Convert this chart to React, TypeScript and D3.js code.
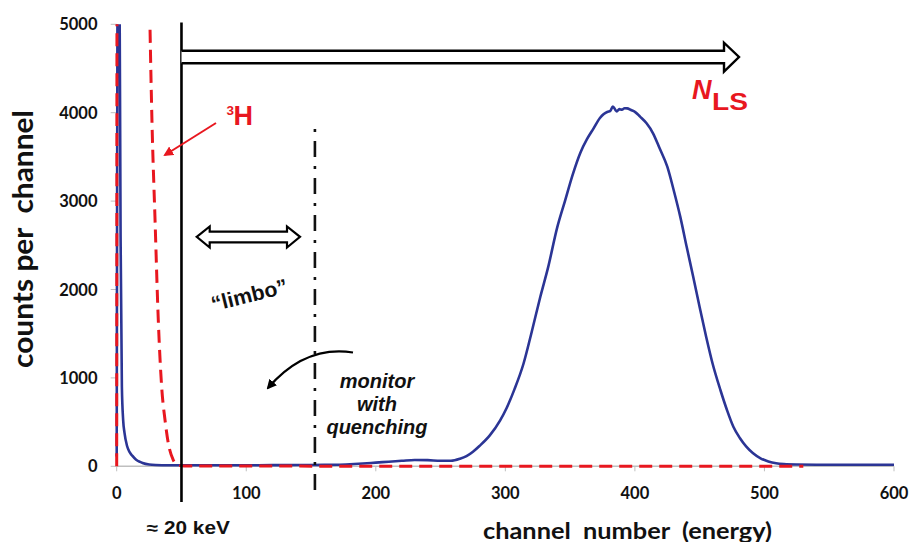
import React from "react";
import * as d3 from "d3";

const xTicks = [0, 100, 200, 300, 400, 500, 600];
const yTicks = [0, 1000, 2000, 3000, 4000, 5000];

const blueChannels = [0, 1, 2, 3, 4, 5, 6, 8, 10, 12, 15, 18, 20, 25, 30, 40, 60, 80, 100, 120, 140, 160, 170, 180, 190, 200, 210, 220, 230, 240, 250, 258, 265, 270, 275, 280, 288, 296, 301, 307, 314, 320, 327, 333, 340, 346, 352, 358, 363, 368, 373, 376, 379, 381, 383, 385, 386, 388, 390, 392, 394, 397, 400, 404, 409, 414, 419, 425, 430, 435, 440, 445, 450, 455, 460, 466, 471, 476, 481, 486, 491, 497, 503, 509, 515, 525, 540, 560, 580, 600];
const blueCounts = [110, 6500, 6000, 2600, 900, 520, 380, 230, 160, 120, 75, 50, 38, 20, 14, 12, 12, 12, 12, 13, 14, 16, 18, 24, 32, 42, 52, 62, 72, 70, 62, 62, 85, 115, 165, 230, 350, 520, 660, 870, 1160, 1500, 1918, 2250, 2700, 3000, 3300, 3550, 3700, 3820, 3940, 3985, 4010, 4020, 4070, 4030, 4015, 4040, 4035, 4050, 4049, 4030, 4010, 3955, 3880, 3767, 3600, 3389, 3120, 2824, 2480, 2145, 1800, 1466, 1160, 863, 640, 448, 320, 222, 150, 90, 55, 34, 25, 20, 18, 18, 18, 18];

const redChannels = [0, 0.5, 20, 24, 25.7, 27.2, 29.6, 32.1, 34.7, 37.3, 39.8, 43.7, 47.3, 52, 530];
const redCounts = [0, 9000, 9000, 6500, 4970, 3918, 2786, 1655, 900, 524, 264, 71, 15, 3, 0];

const thresholdChannel = 50;
const monitorChannel = 153;

const BLUE = "#2b3595";
const RED = "#e8171f";

export default function App() {
  const x = d3.scaleLinear().domain([0, 600]).range([116.7, 894]);
  const y = d3.scaleLinear().domain([0, 5000]).range([466.3, 24.3]);

  const line = d3
    .line<[number, number]>()
    .x((d) => x(d[0]))
    .y((d) => y(d[1]))
    .curve(d3.curveMonotoneX);

  const blueData: [number, number][] = blueChannels.map((c, i) => [c, blueCounts[i]]);
  const redData: [number, number][] = redChannels.map((c, i) => [c, redCounts[i]]);

  const tickFont = "Lato, 'Open Sans', sans-serif";
  const annFont = "'Liberation Sans', Arial, sans-serif";

  const xt = x(thresholdChannel);
  const xm = x(monitorChannel);

  const bTop = 50.7, bBot = 63.3, headBase = 724, headTip = 739, hTop = 42.7, hBot = 71.7;
  const sL = 196.7, sR = 300, sMid = 236.8, sTop = 231.7, sBot = 242.3, sHT = 226.5, sHB = 247.5, sHL = 13;

  return (
    <svg
      width={910}
      height={542}
      style={{ position: "absolute", left: 0, top: 0, background: "#fff" }}
    >
      <defs>
        <clipPath id="plotclip">
          <rect x={110} y={y(5000)} width={800} height={y(0) - y(5000) + 6} />
        </clipPath>
        <marker id="ahBlack" viewBox="0 0 10 10" refX="8" refY="5" markerWidth="4.5" markerHeight="4.5" orient="auto">
          <path d="M0,0 L10,5 L0,10 z" fill="#000" />
        </marker>
        <marker id="ahRed" viewBox="0 0 10 10" refX="8" refY="5" markerWidth="5" markerHeight="5" orient="auto">
          <path d="M0,0 L10,5 L0,10 z" fill={RED} />
        </marker>
      </defs>

      {/* axes */}
      <line x1={x(0)} x2={x(600)} y1={y(0)} y2={y(0)} stroke="#bfbfbf" strokeWidth={1.5} />
      <line x1={x(0)} x2={x(0)} y1={y(0)} y2={y(5000)} stroke="#d0d0d0" strokeWidth={1} />
      {xTicks.map((t) => (
        <g key={"xt" + t}>
          <line x1={x(t)} x2={x(t)} y1={y(0)} y2={y(0) + 5} stroke="#bfbfbf" strokeWidth={1} />
          <text x={x(t)} y={498.5} textAnchor="middle" fontFamily={tickFont} fontWeight={700} fontSize={16.5} fill="#111">
            {t}
          </text>
        </g>
      ))}
      {yTicks.map((t) => (
        <g key={"yt" + t}>
          <line x1={x(0) - 6} x2={x(0)} y1={y(t)} y2={y(t)} stroke="#bfbfbf" strokeWidth={1} />
          <text x={97.5} y={y(t) + 6} textAnchor="end" fontFamily={tickFont} fontWeight={700} fontSize={16.5} fill="#111">
            {t}
          </text>
        </g>
      ))}

      {/* axis titles */}
      <text
        transform="translate(33,239) rotate(-90)"
        textAnchor="middle"
        fontFamily={tickFont}
        fontWeight={700}
        fontSize={28}
        fill="#111"
        textLength={258}
        lengthAdjust="spacingAndGlyphs"
        style={{ whiteSpace: "pre" }}
      >
        {"counts per  channel"}
      </text>
      <text
        x={627.5}
        y={538.5}
        textAnchor="middle"
        fontFamily={tickFont}
        fontWeight={700}
        fontSize={22.5}
        fill="#111"
        textLength={289}
        lengthAdjust="spacingAndGlyphs"
        style={{ whiteSpace: "pre" }}
      >
        {"channel  number  (energy)"}
      </text>
      <text
        x={188.3}
        y={533.5}
        textAnchor="middle"
        fontFamily={annFont}
        fontWeight={700}
        fontSize={17.5}
        fill="#111"
        textLength={83}
        lengthAdjust="spacingAndGlyphs"
      >
        ≈ 20 keV
      </text>

      {/* data */}
      <g clipPath="url(#plotclip)">
        <path d={line(blueData) || ""} fill="none" stroke={BLUE} strokeWidth={2.6} strokeLinejoin="round" />
        <path d={line(redData) || ""} fill="none" stroke={RED} strokeWidth={3} strokeDasharray="13 7" />
      </g>

      {/* threshold vertical */}
      <line x1={xt} x2={xt} y1={22.5} y2={502} stroke="#000" strokeWidth={2.6} />
      {/* monitor dash-dot */}
      <line x1={xm} x2={xm} y1={129} y2={491} stroke="#111" strokeWidth={2.6} strokeDasharray="3 9 16 9" />

      {/* big hollow arrow */}
      <path
        d={`M${xt},${bTop} L${headBase},${bTop} L${headBase},${hTop} L${headTip},${(bTop + bBot) / 2} L${headBase},${hBot} L${headBase},${bBot} L${xt},${bBot}`}
        fill="#fff"
        stroke="#000"
        strokeWidth={2.4}
        strokeLinejoin="miter"
      />

      {/* small double hollow arrow */}
      <path
        d={`M${sL},${sMid} L${sL + sHL},${sHT} L${sL + sHL},${sTop} L${sR - sHL},${sTop} L${sR - sHL},${sHT} L${sR},${sMid} L${sR - sHL},${sHB} L${sR - sHL},${sBot} L${sL + sHL},${sBot} L${sL + sHL},${sHB} Z`}
        fill="#fff"
        stroke="#000"
        strokeWidth={2.2}
      />

      {/* limbo */}
      <text
        transform="translate(251,302) rotate(-14)"
        textAnchor="middle"
        fontFamily={annFont}
        fontWeight={700}
        fontSize={21}
        fill="#111"
        textLength={78}
        lengthAdjust="spacingAndGlyphs"
      >
        “limbo”
      </text>

      {/* curved arrow */}
      <path d="M353,352.5 Q305,345 268,388" fill="none" stroke="#000" strokeWidth={2.2} markerEnd="url(#ahBlack)" />

      {/* monitor text */}
      <g fontFamily={annFont} fontWeight={700} fontStyle="italic" fontSize={20} fill="#111" textAnchor="middle">
        <text x={377} y={388}>monitor</text>
        <text x={377} y={411}>with</text>
        <text x={377} y={433.5}>quenching</text>
      </g>

      {/* 3H label */}
      <text fontFamily={annFont} fontWeight={700} fill={RED}>
        <tspan x={226.5} y={115} fontSize={13.5}>3</tspan>
        <tspan x={233.5} y={124.5} fontSize={27}>H</tspan>
      </text>
      <line x1={216} y1={123} x2={165} y2={155} stroke={RED} strokeWidth={2} markerEnd="url(#ahRed)" />

      {/* N_LS */}
      <text fontFamily={annFont} fontWeight={700} fill={RED}>
        <tspan x={692} y={99} fontSize={27} fontStyle="italic">N</tspan>
        <tspan x={712} y={110} fontSize={23} textLength={36} lengthAdjust="spacingAndGlyphs">LS</tspan>
      </text>
    </svg>
  );
}
